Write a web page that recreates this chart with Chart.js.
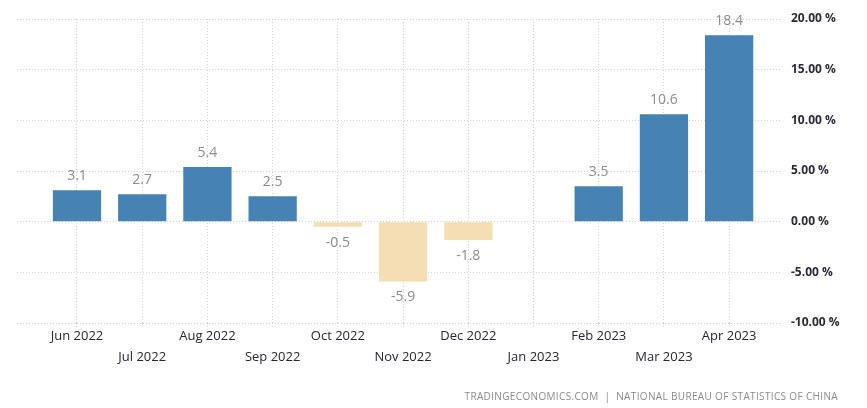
<!DOCTYPE html>
<html>
<head>
<meta charset="utf-8">
<script src="https://cdn.jsdelivr.net/npm/chart.js@4/dist/chart.umd.min.js"></script>
<style>
  html, body { margin: 0; padding: 0; background: #fff; }
  #wrap { position: relative; width: 867px; height: 408px; }
  #source {
    position: absolute; right: 29px; top: 389px;
    font: 10px "Open Sans", sans-serif; letter-spacing: 0.35px;
    color: #8a8a8a; white-space: nowrap;
  }
</style>
</head>
<body>
<div id="wrap">
  <canvas id="chart" width="867" height="408"></canvas>
  <div id="source">TRADINGECONOMICS.COM&nbsp; | &nbsp;NATIONAL BUREAU OF STATISTICS OF CHINA</div>
</div>
<script>
const months = ['Jun 2022', 'Jul 2022', 'Aug 2022', 'Sep 2022', 'Oct 2022', 'Nov 2022',
                'Dec 2022', 'Jan 2023', 'Feb 2023', 'Mar 2023', 'Apr 2023'];
const values = [3.1, 2.7, 5.4, 2.5, -0.5, -5.9, -1.8, null, 3.5, 10.6, 18.4];
const yTicks = [-10, -5, 0, 5, 10, 15, 20];

const blue = '#4682b4';
const sand = '#f5deb3';

// labels over (or under) every bar
const barLabels = {
  id: 'barLabels',
  afterDatasetsDraw(chart) {
    const ctx = chart.ctx;
    const meta = chart.getDatasetMeta(0);
    ctx.save();
    ctx.font = '14px "Open Sans", sans-serif';
    ctx.fillStyle = '#8c8c8c';
    ctx.textAlign = 'center';
    ctx.textBaseline = 'middle';
    meta.data.forEach((bar, i) => {
      let v = values[i];
      if (v === null) return;
      let y = v >= 0 ? bar.y - 14 : bar.y + 16;
      ctx.fillText(v.toFixed(1), bar.x, y);
    });
    ctx.restore();
  }
};

new Chart(document.getElementById('chart'), {
  type: 'bar',
  data: {
    datasets: [{
      data: values.map((v, i) => ({ x: i, y: v })),
      backgroundColor: values.map(v => v < 0 ? sand : blue),
      barPercentage: 0.74,
      categoryPercentage: 1
    }]
  },
  options: {
    responsive: false,
    animation: false,
    layout: { padding: { top: 19, left: 17, right: 0, bottom: 0 } },
    plugins: { legend: { display: false }, tooltip: { enabled: false } },
    scales: {
      x: {
        type: 'linear',
        offset: false,
        min: -0.92,
        max: 10.78,
        afterBuildTicks: s => { s.ticks = months.map((m, i) => ({ value: i })); },
        afterFit: s => { s.height = 85; },
        grid: { offset: false, color: '#d4d4d4', tickLength: 5, tickColor: '#d4d4d4', tickBorderDash: [1, 2] },
        border: { display: false, dash: [1, 2] },
        ticks: {
          autoSkip: false, maxRotation: 0, padding: -2,
          color: '#262636',
          font: { family: '"Open Sans", sans-serif', size: 13, lineHeight: 1.6 },
          callback: (v) => v % 2 === 0 ? months[v] : ['', months[v]]
        }
      },
      y: {
        position: 'right',
        min: -10,
        max: 20,
        afterBuildTicks: s => { s.ticks = yTicks.map(v => ({ value: v })); },
        afterFit: s => { s.width = 87; },
        grid: { color: '#d4d4d4', drawTicks: false },
        border: { display: false, dash: [1, 2] },
        ticks: {
          padding: 11,
          color: '#2a2a3a',
          font: { family: '"Open Sans", sans-serif', size: 12, weight: 'bold' },
          callback: v => v.toFixed(2) + ' %'
        }
      }
    }
  },
  plugins: [barLabels]
});
</script>
</body>
</html>
